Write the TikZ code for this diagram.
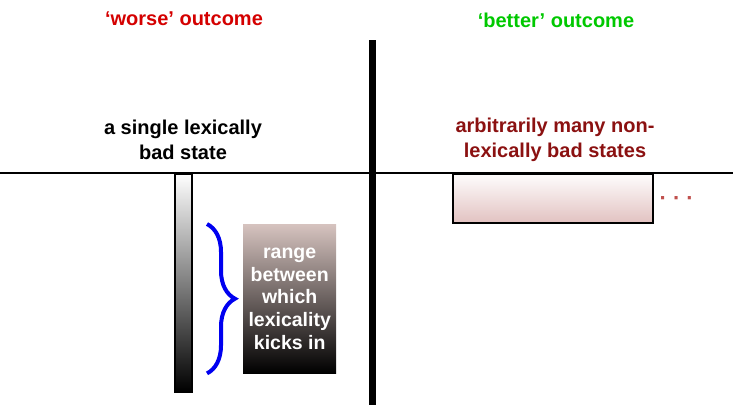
\documentclass[tikz,border=0pt]{standalone}
\usepackage{fontspec}
\setmainfont{Liberation Sans}
\usepackage{xcolor}
\usepackage{tikz}
\usetikzlibrary{positioning, calc, decorations.pathreplacing}

\definecolor{worsered}{HTML}{D40000}
\definecolor{bettergreen}{HTML}{00C800}
\definecolor{statered}{HTML}{8B1111}
\definecolor{dotred}{HTML}{C0504D}
\definecolor{barpink}{HTML}{BBA6A4}
\definecolor{rangetop}{HTML}{D6C3BF}
\definecolor{boxpink}{HTML}{E2C2C1}
\definecolor{bracefill}{HTML}{0000F0}

\tikzset{
  label/.style={font=\fontsize{20}{25}\selectfont\bfseries, align=center, inner sep=0pt},
  lexbar/.style={draw=black, line width=1.5pt, inner sep=0pt,
    top color=white, middle color=barpink, bottom color=black},
  rangebox/.style={inner sep=0pt, top color=rangetop, bottom color=black,
    text=white, align=center, font=\fontsize{19.5}{22.7}\selectfont\bfseries},
  manybox/.style={draw=black, line width=1.5pt, inner sep=0pt,
    top color=white!97!boxpink, bottom color=boxpink},
  bracket/.style={draw=bracefill, line width=4pt,
    decorate, decoration={brace, amplitude=28pt}}
}

\begin{document}
\begin{tikzpicture}[x=1pt, y=-1pt]
    \useasboundingbox (0,0) rectangle (733,405);

    % Base line of the states
    \draw[line width=1.5pt] (0,173) -- (733,173);

    % Divider between the two outcomes
    \draw[line width=7pt] (372,40) -- (372,405);

    % Column headings
    \node[label, text=worsered] (worse) at (184,19) {‘worse’ outcome};
    \node[label, text=bettergreen] (better) at (556,20) {‘better’ outcome};

    % State descriptions
    \node[label] (single) at (183,140) {a single lexically\\bad state};
    \node[label, text=statered] (many) at (555,140) {arbitrarily many non-\\lexically bad states};

    % Left: one long bar
    \node[lexbar, anchor=north, minimum width=17pt, minimum height=218pt] (bar) at (183.5,173) {};

    % Shaded range box and its brace
    \node[rangebox, anchor=north west, minimum width=93pt, minimum height=149pt] (range) at (243,224)
        {range\\between\\which\\lexicality\\kicks in};
    \draw[bracket] ([xshift=-36pt]range.north west) -- ([xshift=-36pt]range.south west);

    % Right: one wide short box
    \node[manybox, anchor=north west, minimum width=200pt, minimum height=49pt] (box) at (452,173) {};
    \node[text=dotred, font=\fontsize{22}{22}\selectfont\bfseries, right=6pt of box, yshift=-3pt, inner sep=0pt] (dots)
        {\textperiodcentered\hspace{6pt}\textperiodcentered\hspace{6pt}\textperiodcentered};

\end{tikzpicture}
\end{document}
